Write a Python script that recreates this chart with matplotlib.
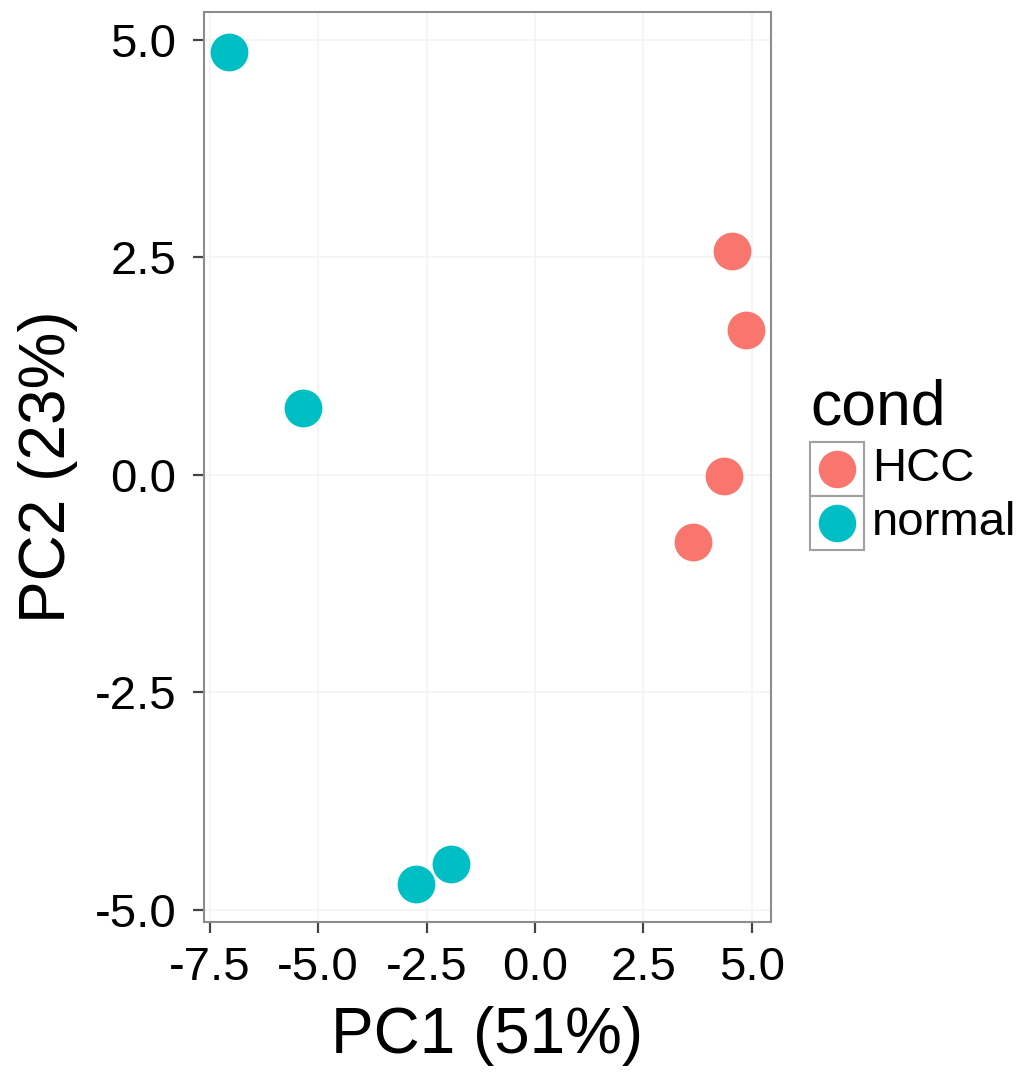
import matplotlib
matplotlib.use("Agg")
import matplotlib.pyplot as plt
from matplotlib.patches import Rectangle
from matplotlib.lines import Line2D

plt.rcParams['font.family'] = ['Liberation Sans', 'DejaVu Sans']

# PCA scores per sample
hcc_pc1 = [4.54, 4.86, 4.35, 3.64]
hcc_pc2 = [2.57, 1.67, -0.01, -0.77]
normal_pc1 = [-7.05, -5.35, -2.74, -1.94]
normal_pc2 = [4.86, 0.77, -4.70, -4.47]

groups = ["HCC", "normal"]
colors = {"HCC": "#F8766D", "normal": "#00BFC4"}
ticks = [-7.5, -5.0, -2.5, 0.0, 2.5, 5.0]
yticks = [-5.0, -2.5, 0.0, 2.5, 5.0]

W, H = 1031, 1074
fig = plt.figure(figsize=(W / 100, H / 100), dpi=100)
ax = fig.add_axes([204 / W, 1 - 922 / H, (771 - 204) / W, (922 - 12) / H])

ms = 740
ax.scatter(hcc_pc1, hcc_pc2, s=ms, color=colors["HCC"], linewidths=0, zorder=3)
ax.scatter(normal_pc1, normal_pc2, s=ms, color=colors["normal"], linewidths=0, zorder=3)

ax.set_xlim(-7.63, 5.44)
ax.set_ylim(-5.14, 5.32)
ax.set_xticks(ticks)
ax.set_yticks(yticks)
ax.set_xticklabels([f"{t:.1f}" for t in ticks])
ax.set_yticklabels([f"{t:.1f}" for t in yticks])
ax.grid(True, color="#f3f3f3", linewidth=1.2, zorder=0)
ax.set_axisbelow(True)
for sp in ax.spines.values():
    sp.set_color("#8c8c8c")
    sp.set_linewidth(1.5)
ax.tick_params(axis="both", length=8, width=1.6, color="#444444",
               labelsize=34, labelcolor="black")
ax.tick_params(axis="y", pad=12)
ax.tick_params(axis="x", pad=9)
ax.set_xlabel("PC1 (51%)", fontsize=46, labelpad=12)
ax.set_ylabel("PC2 (23%)", fontsize=46, labelpad=12)

# legend drawn by hand: title, boxed keys, labels
fig.text(810 / W, 1 - 408 / H, "cond", fontsize=45, va="center", ha="left")
key_w, key_h = 54, 54
for i, g in enumerate(groups):
    top = 442 + i * key_h
    fig.add_artist(Rectangle((810 / W, 1 - (top + key_h) / H), key_w / W, key_h / H,
                             transform=fig.transFigure, facecolor="white",
                             edgecolor="#a0a0a0", linewidth=1.5))
    cx, cy = 810 + key_w / 2, top + key_h / 2
    fig.add_artist(Line2D([cx / W], [1 - cy / H], marker="o", markersize=27,
                          markerfacecolor=colors[g], markeredgewidth=0,
                          linestyle="none", transform=fig.transFigure))
    fig.text(872 / W, 1 - cy / H, g, fontsize=34, va="center", ha="left")

fig.savefig("out.png", dpi=100)
